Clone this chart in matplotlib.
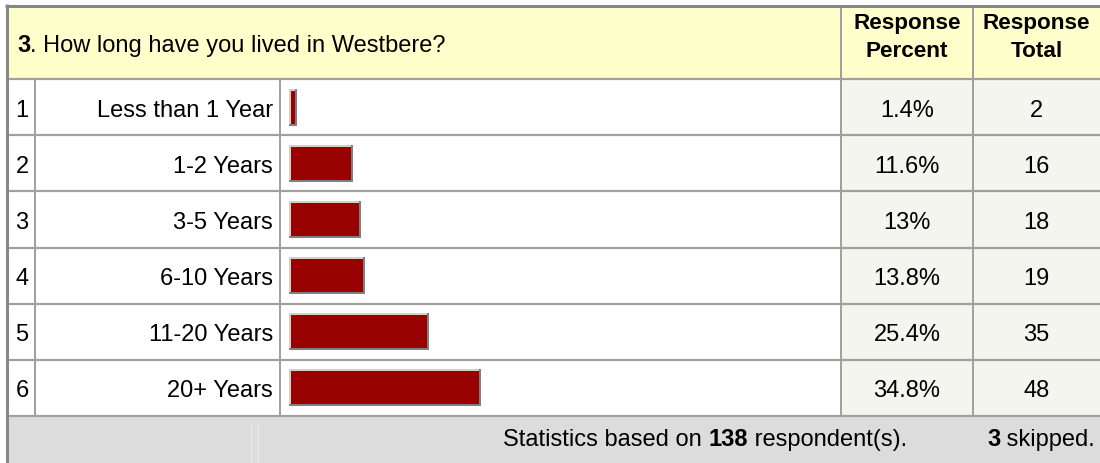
import matplotlib
matplotlib.use("Agg")
import matplotlib.pyplot as plt
from matplotlib.patches import Rectangle

# ---------------- data ----------------
question_number = "3"
question_text = ". How long have you lived in Westbere?"
categories = ["Less than 1 Year", "1-2 Years", "3-5 Years", "6-10 Years",
              "11-20 Years", "20+ Years"]
percents = [1.4, 11.6, 13, 13.8, 25.4, 34.8]
totals = [2, 16, 18, 19, 35, 48]
header_percent = ["Response", "Percent"]
header_total = ["Response", "Total"]
respondents = 138
skipped = 3

# ---------------- layout / style ----------------
W, H = 1100, 464
plt.rcParams["font.family"] = ["Liberation Sans", "DejaVu Sans"]
FS = 17
FS_HEAD = 16.2
GRID = "#a0a0a0"
BORDER = "#878787"
HEAD_BG = "#ffffcc"
NUM_BG = "#f5f5ef"
FOOT_BG = "#dcdcdc"
BAR_RED = "#990000"
BAR_LIGHT = "#d4d0c8"
BAR_DARK = "#808080"

X0 = 8
XC1, XC2, XC3, XC4 = 35, 280, 841, 973
Y0 = 8
HEAD_B = 80
ROW_H = 56.17
n = len(categories)
FOOT_T = HEAD_B + n * ROW_H
BAR_X0 = 289
PX_PER_PCT = (XC3 - BAR_X0) / 100.0
BAR_PX_H = 37

fig = plt.figure(figsize=(W / 100, H / 100), dpi=100)
fig.patch.set_facecolor("white")
ax = fig.add_axes([0, 0, 1, 1])
ax.set_xlim(0, W)
ax.set_ylim(H, 0)
ax.axis("off")

def lw(px):
    return px * 72 / 100

# backgrounds
ax.add_patch(Rectangle((X0, Y0), W - X0, HEAD_B - Y0, fc=HEAD_BG, ec="none", zorder=0))
for i in range(n):
    top = HEAD_B + i * ROW_H
    ax.add_patch(Rectangle((X0, top), XC3 - X0, ROW_H, fc="white", ec="none", zorder=0))
    ax.add_patch(Rectangle((XC3, top), W - XC3, ROW_H, fc=NUM_BG, ec="none", zorder=0))
ax.add_patch(Rectangle((X0, FOOT_T), W - X0, H - FOOT_T, fc=FOOT_BG, ec="none", zorder=0))

# grid lines
for i in range(n + 1):
    y = HEAD_B + i * ROW_H
    ax.plot([X0, W], [y, y], color=GRID, lw=lw(2.2), solid_capstyle="butt", zorder=2)
for x in (XC1, XC2):
    ax.plot([x, x], [HEAD_B, FOOT_T], color=GRID, lw=lw(2), solid_capstyle="butt", zorder=2)
for x in (XC3, XC4):
    ax.plot([x, x], [Y0, FOOT_T], color=GRID, lw=lw(2), solid_capstyle="butt", zorder=2)
for x in (251, 258):
    ax.plot([x, x], [FOOT_T + 8, H], color="#e9e9e9", lw=lw(1), zorder=1)
# outer border
ax.plot([6.5, 6.5], [5, H], color=BORDER, lw=lw(3), solid_capstyle="butt", zorder=3)
ax.plot([5, W], [6.5, 6.5], color=BORDER, lw=lw(3), solid_capstyle="butt", zorder=3)

# ---------------- texts ----------------
fig.canvas.draw()
renderer = fig.canvas.get_renderer()

def width_px(t):
    return t.get_window_extent(renderer).width

def chain_left(x, y, pieces):
    for s, wgt in pieces:
        t = ax.text(x, y, s, fontsize=FS, fontweight=wgt, ha="left", va="baseline",
                    color="black", zorder=5)
        x += width_px(t)

def chain_right(x, y, pieces):
    for s, wgt in reversed(pieces):
        t = ax.text(x, y, s, fontsize=FS, fontweight=wgt, ha="right", va="baseline",
                    color="black", zorder=5)
        x -= width_px(t)

chain_left(17, 52, [(question_number, "bold"), (question_text, "normal")])

pc_x = (XC3 + XC4) / 2
tot_x = (XC4 + W) / 2
for cx, lines in ((pc_x, header_percent), (tot_x, header_total)):
    ax.text(cx, 28.5, lines[0], fontsize=FS_HEAD, fontweight="bold", ha="center", va="baseline", zorder=5)
    ax.text(cx, 57, lines[1], fontsize=FS_HEAD, fontweight="bold", ha="center", va="baseline", zorder=5)

for i in range(n):
    base = HEAD_B + i * ROW_H + ROW_H / 2 + 8.5
    ax.text((X0 + XC1) / 2 + 0.5, base, str(i + 1), fontsize=FS, ha="center", va="baseline", zorder=5)
    ax.text(273, base, categories[i], fontsize=FS, ha="right", va="baseline", zorder=5)
    ax.text(pc_x, base, f"{percents[i]:g}%", fontsize=FS, ha="center", va="baseline", zorder=5)
    ax.text(tot_x, base, str(totals[i]), fontsize=FS, ha="center", va="baseline", zorder=5)

foot_base = FOOT_T + 29
chain_right(907, foot_base, [("Statistics based on ", "normal"), (str(respondents), "bold"),
                             (" respondent(s).", "normal")])
chain_right(1095, foot_base, [(str(skipped), "bold"), (" skipped.", "normal")])

# ---------------- bars (percent scale) ----------------
bax = fig.add_axes([BAR_X0 / W, 1 - FOOT_T / H, (XC3 - BAR_X0) / W, (FOOT_T - HEAD_B) / H])
bax.set_xlim(0, 100)
bax.set_ylim(n, 0)
bax.axis("off")
bax.patch.set_alpha(0)
dx = 1 / PX_PER_PCT        # one pixel in percent units
dy = 1 / ROW_H             # one pixel in row units
bh = BAR_PX_H * dy
ypos = [i + 0.5 for i in range(n)]
bax.barh(ypos, percents, height=bh, left=0, color=BAR_DARK, zorder=1)
bax.barh([y - dy for y in ypos], [p - 2 * dx for p in percents], height=bh - 2 * dy,
         left=0, color=BAR_LIGHT, zorder=2)
bax.barh([y - 0.0 for y in ypos], [p - 4 * dx for p in percents], height=bh - 4 * dy,
         left=2 * dx, color=BAR_RED, zorder=3)

fig.savefig("out.png", dpi=100, facecolor="white")
